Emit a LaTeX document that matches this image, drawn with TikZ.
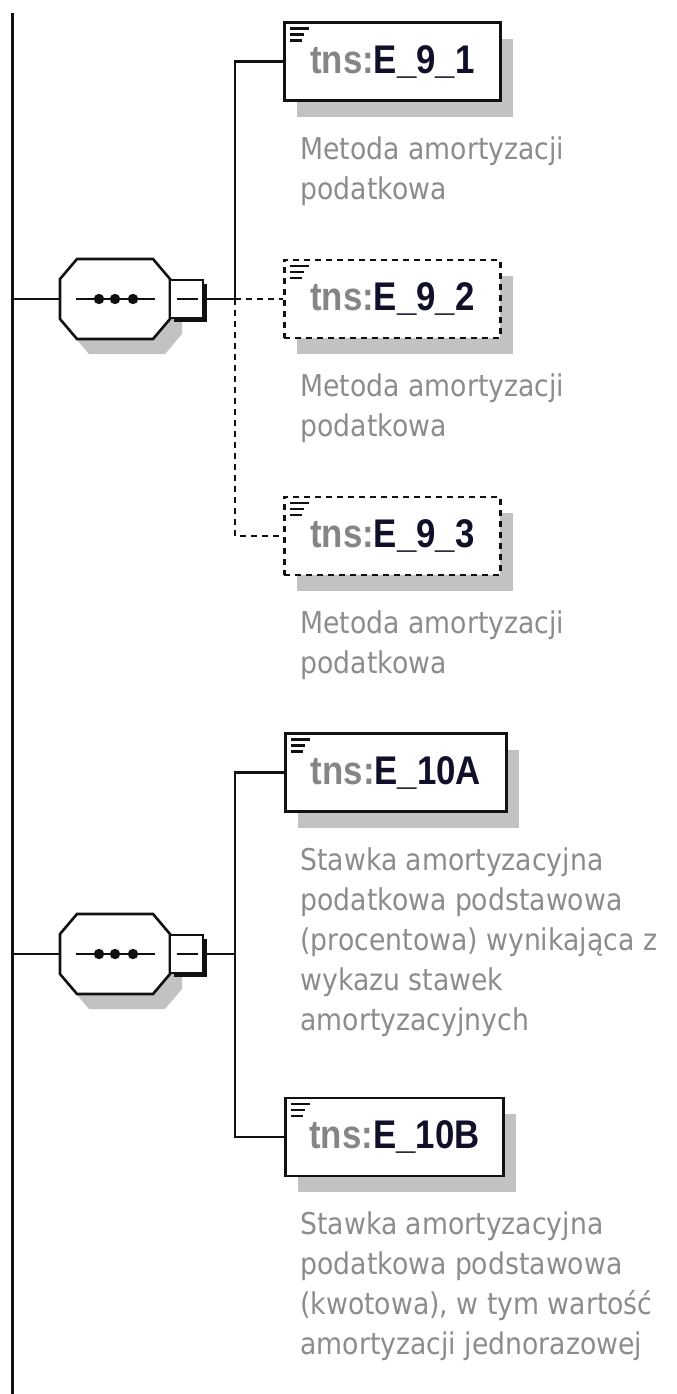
\documentclass[tikz,border=0pt]{standalone}
\usepackage{fontspec}
\newfontfamily\titlefont[FakeStretch=0.87]{Liberation Sans}
\newfontfamily\descfont[FakeStretch=0.89]{DejaVu Sans}
\usepackage{xcolor}
\definecolor{ink}{HTML}{111111}
\definecolor{nsgrey}{HTML}{858585}
\definecolor{namedark}{HTML}{10102A}
\definecolor{descgrey}{HTML}{8C8C8C}
\definecolor{shade}{HTML}{C2C2C2}
\usepackage{tikz}
\usetikzlibrary{positioning,calc,shadows}

\newcommand\tnsname[1]{\textcolor{nsgrey}{tns:}\textcolor{namedark}{#1}}

\tikzset{
  conn/.style={ink, line width=1.3pt},
  optconn/.style={conn, dash pattern=on 3pt off 2.5pt},
  elem/.style={draw=ink, line width=1.4pt, fill=white, anchor=west,
    minimum width=108pt, minimum height=39pt, inner sep=0pt,
    font=\titlefont\bfseries\fontsize{20}{22}\selectfont,
    drop shadow={shadow xshift=6.5pt, shadow yshift=-8pt, fill=shade, opacity=1},
    path picture={\draw[ink, solid, line width=1.2pt]
      ([shift={(3pt,-3pt)}]path picture bounding box.north west) -- ++(9.5pt,0pt)
      ([shift={(3pt,-6pt)}]path picture bounding box.north west) -- ++(7pt,0pt)
      ([shift={(3pt,-9pt)}]path picture bounding box.north west) -- ++(6pt,0pt);}},
  optelem/.style={elem, dash pattern=on 3pt off 2.5pt},
  desc/.style={anchor=north west, inner sep=0pt, align=left, text=descgrey,
    font=\descfont\fontsize{15}{20}\selectfont},
  seqshape/.style={draw=ink, line width=1.3pt, fill=white,
    drop shadow={shadow xshift=6pt, shadow yshift=-7.5pt, fill=shade, opacity=1}},
  minusbox/.style={draw=ink, line width=1.3pt, fill=white, inner sep=0pt,
    minimum width=16.5pt, minimum height=19pt,
    drop shadow={shadow xshift=2pt, shadow yshift=-2pt, fill=ink, opacity=1}}
}

\begin{document}
\begin{tikzpicture}[x=0.5pt,y=-0.5pt]
  \useasboundingbox (0,0) rectangle (676,1394);
  % parent spine
  \coordinate (spinetop) at (12,13);
  \coordinate (spinebot) at (12,1394);
  \draw[conn, line width=1.5pt] (spinetop) -- (spinebot);
  % sequence compositors
  \foreach \n/\y in {1/299, 2/954} {
    \node[minimum width=55pt, minimum height=40pt, inner sep=0pt, outer sep=0pt] (oct\n) at (115,\y) {};
    \draw[seqshape] ($(oct\n.north west)+(17,0)$) -- ($(oct\n.north east)+(-17,0)$)
      -- ($(oct\n.north east)+(0,20)$) -- ($(oct\n.south east)+(0,-20)$)
      -- ($(oct\n.south east)+(-17,0)$) -- ($(oct\n.south west)+(17,0)$)
      -- ($(oct\n.south west)+(0,-20)$) -- ($(oct\n.north west)+(0,20)$) -- cycle;
    \draw[conn] ($(oct\n.center)+(-39,0)$) -- ($(oct\n.center)+(40,0)$);
    \foreach \dx in {-16,0,18}
      \fill[ink] ($(oct\n.center)+(\dx,0)$) circle (2.6pt);
    \node[minusbox] (m\n) at (186.5,\y) {};
    \draw[conn] ($(m\n.center)+(-10,0)$) -- ($(m\n.center)+(11,0)$);
    \draw[conn] (oct\n.west -| spinetop) -- (oct\n.west);
    \coordinate (j\n) at (235,\y);
    \draw[conn] (m\n.east) -- (j\n);
  }
  % elements of the first sequence
  \node[elem] (e91) at (283,61.5) {\tnsname{E\_9\_1}};
  \node[desc, below right=17pt and 8.5pt of e91.south west] (d91) {Metoda amortyzacji\\podatkowa};
  \node[optelem] (e92) at (283,299) {\tnsname{E\_9\_2}};
  \node[desc, below right=17pt and 8.5pt of e92.south west] (d92) {Metoda amortyzacji\\podatkowa};
  \node[optelem] (e93) at (283,536) {\tnsname{E\_9\_3}};
  \node[desc, below right=17pt and 8.5pt of e93.south west] (d93) {Metoda amortyzacji\\podatkowa};
  % elements of the second sequence
  \node[elem, minimum width=110.5pt] (e10a) at (284,772.5) {\tnsname{E\_10A}};
  \node[desc, below right=17pt and 8pt of e10a.south west] (d10a) {Stawka amortyzacyjna\\podatkowa podstawowa\\(procentowa) wynikająca z\\wykazu stawek\\amortyzacyjnych};
  \node[elem, minimum width=109pt] (e10b) at (284,1137) {\tnsname{E\_10B}};
  \node[desc, below right=17pt and 8pt of e10b.south west] (d10b) {Stawka amortyzacyjna\\podatkowa podstawowa\\(kwotowa), w tym wartość\\amortyzacji jednorazowej};
  % branches
  \draw[conn] (j1) |- (e91.west);
  \draw[optconn] (j1) -- (e92.west);
  \draw[optconn] (j1) |- (e93.west);
  \draw[conn] (j2) |- (e10a.west);
  \draw[conn] (j2) |- (e10b.west);
\end{tikzpicture}
\end{document}
